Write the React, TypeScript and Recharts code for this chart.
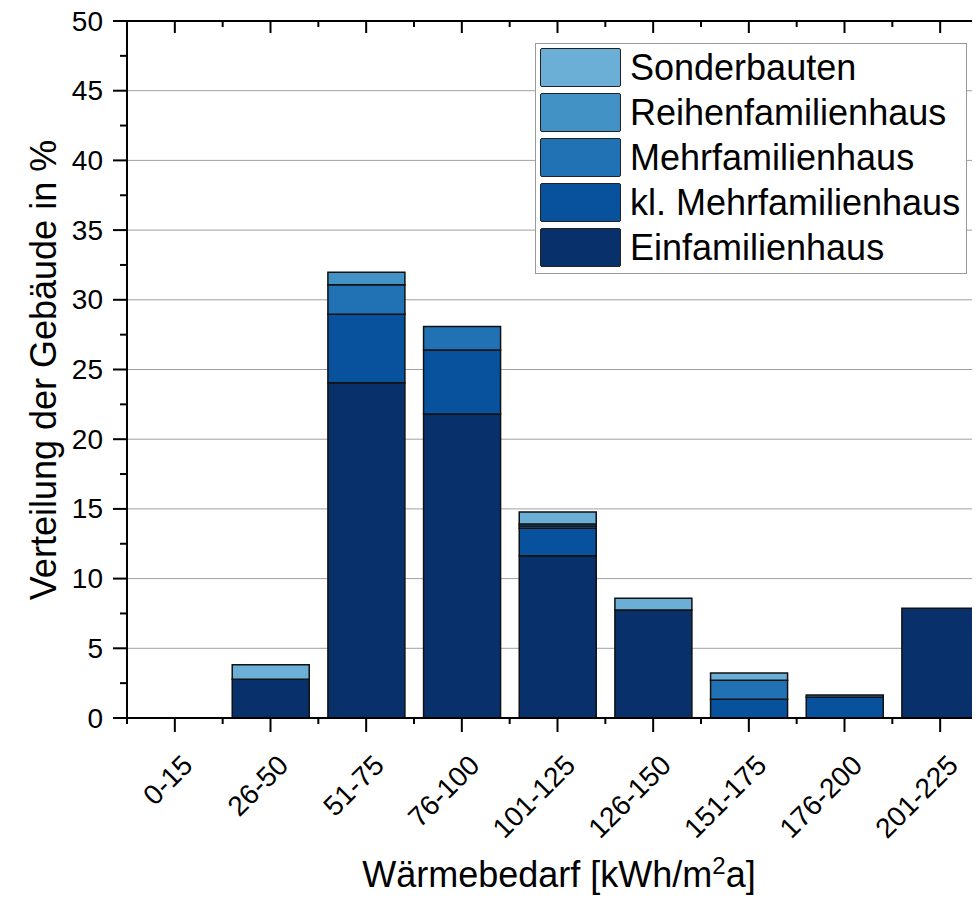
import React from "react";
import {
  BarChart,
  Bar,
  XAxis,
  YAxis,
  CartesianGrid,
  Legend,
} from "recharts";

const CATEGORIES = ["0-15", "26-50", "51-75", "76-100", "101-125", "126-150", "151-175", "176-200", "201-225"];

// % of buildings per class, stacked bottom -> top
const EINFAMILIENHAUS = [0, 2.78, 24.05, 21.8, 11.64, 7.75, 0, 0, 7.87];
const KL_MEHRFAMILIENHAUS = [0, 0, 4.91, 4.59, 1.97, 0, 1.34, 1.48, 0];
const MEHRFAMILIENHAUS = [0, 0, 2.12, 1.69, 0.16, 0, 1.36, 0.17, 0];
const REIHENFAMILIENHAUS = [0, 0, 0.89, 0, 0.15, 0, 0, 0, 0];
const SONDERBAUTEN = [0, 1.04, 0, 0, 0.86, 0.84, 0.53, 0, 0];

const Y_TICKS = [0, 2.5, 5, 7.5, 10, 12.5, 15, 17.5, 20, 22.5, 25, 27.5, 30, 32.5, 35, 37.5, 40, 42.5, 45, 47.5, 50];
const GRID_VALUES = [5, 10, 15, 20, 25, 30, 35, 40, 45];

const SERIES = [
  { key: "einfam", name: "Einfamilienhaus", color: "#08306b", values: EINFAMILIENHAUS },
  { key: "klmehr", name: "kl. Mehrfamilienhaus", color: "#08519c", values: KL_MEHRFAMILIENHAUS },
  { key: "mehr", name: "Mehrfamilienhaus", color: "#2171b5", values: MEHRFAMILIENHAUS },
  { key: "reihen", name: "Reihenfamilienhaus", color: "#4292c6", values: REIHENFAMILIENHAUS },
  { key: "sonder", name: "Sonderbauten", color: "#6baed6", values: SONDERBAUTEN },
];

const rows = CATEGORIES.map((cat, i) => {
  const r: Record<string, any> = { cat };
  SERIES.forEach((s) => (r[s.key] = s.values[i]));
  return r;
});

const FONT = '"Liberation Sans", Arial, Helvetica, sans-serif';
const AXIS = { stroke: "#000", strokeWidth: 2 };

function halfBand(props: any) {
  const { payload, width, visibleTicksCount } = props;
  if (payload && typeof payload.offset === "number" && payload.offset > 0) return payload.offset;
  return width / (visibleTicksCount || CATEGORIES.length) / 2;
}

function BottomTick(props: any) {
  const { x, y, payload, index } = props;
  const h = halfBand(props);
  const tx = x + 19.5;
  const ty = y + 49;
  return (
    <g>
      <line x1={x} x2={x} y1={y} y2={y + 14} stroke="#000" strokeWidth={2} />
      <line x1={x + h} x2={x + h} y1={y} y2={y + 6} stroke="#000" strokeWidth={2} />
      {index === 0 && <line x1={x - h} x2={x - h} y1={y} y2={y + 6} stroke="#000" strokeWidth={2} />}
      <text
        x={tx}
        y={ty}
        textAnchor="end"
        transform={`rotate(-45, ${tx}, ${ty})`}
        style={{ fontFamily: FONT, fontSize: 28, fill: "#000" }}
      >
        {payload.value}
      </text>
    </g>
  );
}

function TopTick(props: any) {
  const { x, y } = props;
  const h = halfBand(props);
  return (
    <g>
      <line x1={x} x2={x} y1={y} y2={y + 12} stroke="#000" strokeWidth={2} />
      <line x1={x + h} x2={x + h} y1={y} y2={y + 6} stroke="#000" strokeWidth={2} />
    </g>
  );
}

function LeftTick(props: any) {
  const { x, y, payload } = props;
  const v = payload.value;
  const major = v % 5 === 0;
  return (
    <g>
      <line x1={x - (major ? 14 : 7)} x2={x} y1={y} y2={y} stroke="#000" strokeWidth={2} />
      {major && (
        <text
          x={x - 24}
          y={y}
          textAnchor="end"
          dominantBaseline="central"
          style={{ fontFamily: FONT, fontSize: 28, fill: "#000" }}
        >
          {v}
        </text>
      )}
    </g>
  );
}

function LegendBox() {
  const items = [...SERIES].reverse();
  return (
    <div
      style={{
        border: "1px solid #999",
        background: "#fff",
        width: 426,
        padding: "1px 0 3px 4px",
        fontFamily: FONT,
      }}
    >
      {items.map((s) => (
        <div key={s.key} style={{ display: "flex", alignItems: "center", height: 45 }}>
          <div
            style={{
              width: 79,
              height: 37,
              background: s.color,
              border: "1.5px solid #222",
              borderRadius: 2,
            }}
          />
          <span style={{ marginLeft: 9, fontSize: 36, color: "#000", lineHeight: "45px" }}>{s.name}</span>
        </div>
      ))}
    </div>
  );
}

export default function App() {
  return (
    <div style={{ margin: "-8px 0 0 -8px", width: 980, height: 895, overflow: "hidden", position: "relative", background: "#fff" }}>
      <BarChart
        width={1010}
        height={895}
        data={rows}
        margin={{ top: 20, right: 22, bottom: 176, left: 126 }}
        barCategoryGap="10%"
      >
        <CartesianGrid vertical={false} horizontalValues={GRID_VALUES} stroke="#a0a0a0" strokeWidth={1} />
        <XAxis
          dataKey="cat"
          height={1}
          axisLine={AXIS}
          tickLine={false}
          tickSize={0}
          tickMargin={0}
          interval={0}
          tick={<BottomTick />}
        />
        <XAxis
          xAxisId="top"
          orientation="top"
          dataKey="cat"
          height={1}
          axisLine={AXIS}
          tickLine={false}
          tickSize={0}
          tickMargin={0}
          interval={0}
          tick={<TopTick />}
        />
        <YAxis
          type="number"
          domain={[0, 50]}
          ticks={Y_TICKS}
          interval={0}
          width={1}
          axisLine={AXIS}
          tickLine={false}
          tickSize={0}
          tickMargin={0}
          tick={<LeftTick />}
        />
        {SERIES.map((s) => (
          <Bar
            key={s.key}
            dataKey={s.key}
            name={s.name}
            stackId="a"
            fill={s.color}
            stroke="#111"
            strokeWidth={1.5}
            isAnimationActive={false}
          />
        ))}
        <Legend
          layout="vertical"
          align="center"
          verticalAlign="middle"
          content={<LegendBox />}
          wrapperStyle={{ left: 535, top: 43, width: "auto", height: "auto" }}
        />
        <text
          x={56}
          y={370}
          textAnchor="middle"
          transform="rotate(-90, 56, 370)"
          style={{ fontFamily: FONT, fontSize: 36, fill: "#000" }}
        >
          Verteilung der Gebäude in %
        </text>
        <text x={559} y={887} textAnchor="middle" style={{ fontFamily: FONT, fontSize: 36, fill: "#000" }}>
          Wärmebedarf [kWh/m
          <tspan dy={-13} style={{ fontSize: 24 }}>2</tspan>
          <tspan dy={13}>a]</tspan>
        </text>
      </BarChart>
    </div>
  );
}
